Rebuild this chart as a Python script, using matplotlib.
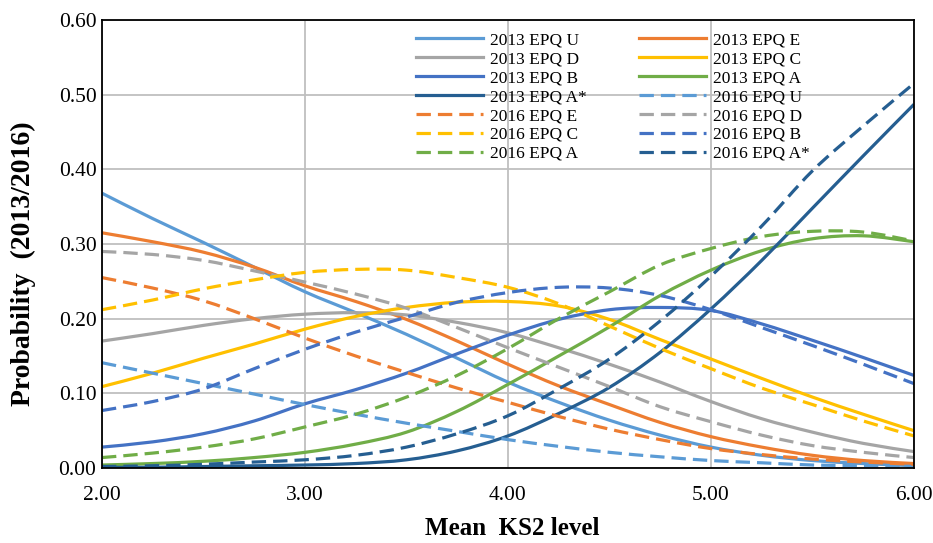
import matplotlib
matplotlib.use("Agg")
import matplotlib.pyplot as plt
import numpy as np
from matplotlib.path import Path
from matplotlib.patches import PathPatch
from matplotlib.lines import Line2D

# mean KS2 level, sampled every 0.25
ks2 = [2.00, 2.25, 2.50, 2.75, 3.00, 3.25, 3.50, 3.75, 4.00,
       4.25, 4.50, 4.75, 5.00, 5.25, 5.50, 5.75, 6.00]

# 2013 cohort
u13 = [0.368, 0.334, 0.302, 0.269, 0.236, 0.208, 0.179, 0.147, 0.115, 0.088, 0.064, 0.044, 0.028, 0.017, 0.010, 0.006, 0.003]
e13 = [0.315, 0.303, 0.289, 0.269, 0.244, 0.223, 0.199, 0.170, 0.139, 0.110, 0.085, 0.061, 0.042, 0.028, 0.017, 0.010, 0.006]
d13 = [0.170, 0.180, 0.191, 0.200, 0.206, 0.208, 0.205, 0.195, 0.181, 0.161, 0.139, 0.115, 0.089, 0.066, 0.048, 0.033, 0.022]
c13 = [0.109, 0.127, 0.147, 0.166, 0.186, 0.203, 0.215, 0.222, 0.223, 0.217, 0.199, 0.172, 0.146, 0.120, 0.095, 0.072, 0.050]
b13 = [0.028, 0.035, 0.046, 0.063, 0.086, 0.105, 0.127, 0.153, 0.178, 0.199, 0.212, 0.215, 0.211, 0.193, 0.171, 0.148, 0.124]
a13 = [0.004, 0.006, 0.009, 0.014, 0.021, 0.032, 0.048, 0.076, 0.112, 0.150, 0.189, 0.231, 0.265, 0.291, 0.307, 0.311, 0.303]
as13 = [0.001, 0.001, 0.002, 0.003, 0.004, 0.006, 0.011, 0.023, 0.043, 0.073, 0.108, 0.155, 0.213, 0.278, 0.348, 0.418, 0.487]

# 2016 cohort
u16 = [0.141, 0.127, 0.113, 0.099, 0.085, 0.072, 0.060, 0.049, 0.038, 0.029, 0.021, 0.015, 0.010, 0.007, 0.004, 0.003, 0.002]
e16 = [0.255, 0.241, 0.224, 0.200, 0.174, 0.150, 0.128, 0.107, 0.088, 0.069, 0.052, 0.038, 0.026, 0.018, 0.012, 0.008, 0.005]
d16 = [0.290, 0.286, 0.278, 0.264, 0.249, 0.233, 0.214, 0.188, 0.161, 0.135, 0.109, 0.082, 0.062, 0.044, 0.030, 0.021, 0.014]
c16 = [0.212, 0.225, 0.240, 0.252, 0.262, 0.266, 0.265, 0.255, 0.242, 0.220, 0.190, 0.160, 0.133, 0.107, 0.085, 0.063, 0.043]
b16 = [0.077, 0.089, 0.106, 0.133, 0.159, 0.182, 0.202, 0.222, 0.235, 0.242, 0.241, 0.231, 0.212, 0.188, 0.164, 0.139, 0.113]
a16 = [0.014, 0.020, 0.028, 0.039, 0.055, 0.072, 0.095, 0.124, 0.160, 0.200, 0.236, 0.272, 0.294, 0.310, 0.317, 0.316, 0.304]
as16 = [0.002, 0.003, 0.005, 0.008, 0.011, 0.017, 0.028, 0.046, 0.070, 0.106, 0.146, 0.197, 0.257, 0.324, 0.398, 0.458, 0.515]

grades = ["U", "E", "D", "C", "B", "A", "A*"]
series13 = [u13, e13, d13, c13, b13, a13, as13]
series16 = [u16, e16, d16, c16, b16, a16, as16]
colours = ["#5B9BD5", "#ED7D31", "#A5A5A5", "#FFC000", "#4472C4", "#70AD47", "#255E91"]

xticks = [2, 3, 4, 5, 6]
yticks = [0.0, 0.1, 0.2, 0.3, 0.4, 0.5, 0.6]

DASH = (0, (4.5, 2.2))
LW = 2.3


def smooth_path(x, y):
    # Excel style "smoothed line": cubic bezier through every point
    pts = np.column_stack([x, y])
    n = len(pts)
    verts = [pts[0]]
    codes = [Path.MOVETO]
    for i in range(n - 1):
        p0 = pts[i - 1] if i > 0 else pts[i]
        p1 = pts[i]
        p2 = pts[i + 1]
        p3 = pts[i + 2] if i + 2 < n else pts[i + 1]
        verts += [p1 + (p2 - p0) / 6.0, p2 - (p3 - p1) / 6.0, p2]
        codes += [Path.CURVE4] * 3
    return Path(verts, codes)


plt.rcParams["font.family"] = ["Liberation Serif", "DejaVu Serif"]

fig = plt.figure(figsize=(9.33, 5.43), dpi=100)
ax = fig.add_axes([0.1093, 0.1381, 0.8703, 0.8251])

handles = []
for year, allseries, ls in [("2013", series13, "-"), ("2016", series16, DASH)]:
    for g, ys, col in zip(grades, allseries, colours):
        patch = PathPatch(smooth_path(ks2, ys), fill=False, edgecolor=col, lw=LW,
                          linestyle=ls, capstyle="butt", transform=ax.transData)
        ax.add_patch(patch)
        handles.append(Line2D([], [], color=col, lw=LW, linestyle=ls,
                              dash_capstyle="butt", label=year + " EPQ " + g))

ax.set_xlim(2, 6)
ax.set_ylim(0, 0.6)
ax.set_xticks(xticks)
ax.set_xticklabels(["%.2f" % v for v in xticks])
ax.set_yticks(yticks)
ax.set_yticklabels(["%.2f" % v for v in yticks])
ax.tick_params(axis="both", length=0, labelsize=15.5)
ax.tick_params(axis="x", pad=13)
ax.tick_params(axis="y", pad=4)
ax.grid(True, color="#BFBFBF", lw=1.3)
ax.set_axisbelow(True)
for sp in ax.spines.values():
    sp.set_color("black")
    sp.set_linewidth(1.3)

ax.set_xlabel("Mean  KS2 level", fontsize=18, fontweight="bold")
ax.xaxis.set_label_coords(0.505, -0.134)
ax.xaxis.label.set_va("center")
ax.set_ylabel("Probability  (2013/2016)", fontsize=20, fontweight="bold")
ax.yaxis.set_label_coords(-0.097, 0.455)
ax.yaxis.label.set_va("center")

# legend reads across rows, matplotlib fills down columns
order = handles[0::2] + handles[1::2]
ax.legend(handles=order, ncol=2, frameon=False, fontsize=12.5,
          loc="upper left", bbox_to_anchor=(0.3715, 1.0),
          handlelength=3.9, handletextpad=0.4, columnspacing=2.97,
          labelspacing=0.16, borderaxespad=0.3)

fig.savefig("out.png", dpi=100)
